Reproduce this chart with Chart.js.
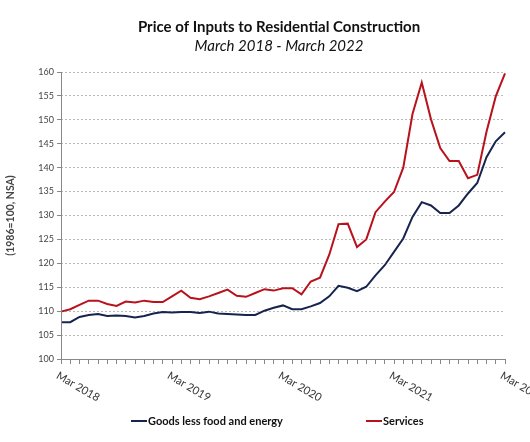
<!DOCTYPE html>
<html>
<head>
<meta charset="utf-8">
<script src="https://cdn.jsdelivr.net/npm/chart.js@4.4.1/dist/chart.umd.min.js"></script>
<style>
  html, body { margin: 0; padding: 0; background: #fff; }
  #wrap { width: 530px; height: 442px; }
</style>
</head>
<body>
<div id="wrap"><canvas id="myChart" width="530" height="442"></canvas></div>
<script>
// monthly, Mar 2018 .. Mar 2022
const meses = ['Jan','Feb','Mar','Apr','May','Jun','Jul','Aug','Sep','Oct','Nov','Dec'];
const etiquetasMes = [];
for (let i = 0; i < 49; i++) {
  const m = (2 + i) % 12;
  const y = 2018 + Math.floor((2 + i) / 12);
  etiquetasMes.push(meses[m] + ' ' + y);
}
const etiquetasVisibles = ['Mar 2018', 'Mar 2019', 'Mar 2020', 'Mar 2021', 'Mar 2022'];

const goods = [107.7,107.7,108.8,109.2,109.4,109.0,109.1,109.0,108.7,109.0,
               109.5,109.8,109.7,109.8,109.8,109.6,109.9,109.5,109.4,109.3,
               109.2,109.2,110.1,110.7,111.2,110.4,110.4,111.0,111.7,113.1,
               115.3,114.9,114.2,115.1,117.5,119.6,122.4,125.2,129.7,132.8,
               132.1,130.5,130.5,132.1,134.6,136.8,142.2,145.5,147.4];
const services = [109.9,110.4,111.3,112.2,112.2,111.5,111.1,112.0,111.8,112.2,
                  111.9,111.9,113.1,114.3,112.8,112.5,113.1,113.8,114.5,113.2,
                  113.0,113.8,114.6,114.3,114.8,114.8,113.5,116.2,117.0,121.8,
                  128.2,128.3,123.4,125.0,130.7,132.9,134.9,140.0,151.2,157.8,
                  150.1,144.1,141.4,141.4,137.8,138.5,147.5,154.9,159.7];

const titulo = 'Price of Inputs to Residential Construction';
const subtitulo = 'March 2018 - March 2022';
const FUENTE = 'Lato, "Liberation Sans", sans-serif';

// titles, x labels rotated downward, solid y axis and legend, drawn by hand
const extras = {
  id: 'extras',
  afterDraw(chart) {
    const c = chart.ctx;
    const xs = chart.scales.x;
    const ys = chart.scales.y;
    c.save();
    // titulos (centrados algo a la derecha, como el original)
    c.fillStyle = '#111';
    c.textAlign = 'center';
    c.textBaseline = 'middle';
    c.font = 'bold 15px ' + FUENTE;
    c.fillText(titulo, 279, 27);
    c.font = 'italic 15px ' + FUENTE;
    c.fillText(subtitulo, 279, 46);

    // eje y solido
    c.strokeStyle = '#888';
    c.lineWidth = 1;
    c.beginPath();
    c.moveTo(Math.round(ys.right) + 0.5, ys.top);
    c.lineTo(Math.round(ys.right) + 0.5, ys.bottom);
    c.stroke();

    // etiquetas x
    c.fillStyle = '#333';
    c.font = '11px ' + FUENTE;
    c.textAlign = 'left';
    c.textBaseline = 'top';
    etiquetasMes.forEach((lab, i) => {
      if (!etiquetasVisibles.includes(lab)) return;
      const x = xs.getPixelForValue(i);
      c.save();
      c.translate(x - 1, xs.top + 11);
      c.rotate(30 * Math.PI / 180);
      c.fillText(lab, 0, 0);
      c.restore();
    });

    // leyenda
    const items = [[131, 0], [366, 1]];
    c.font = 'bold 11px ' + FUENTE;
    c.textBaseline = 'middle';
    items.forEach(([x, k]) => {
      const ds = chart.data.datasets[k];
      c.strokeStyle = ds.borderColor;
      c.lineWidth = 2;
      c.beginPath();
      c.moveTo(x, 421);
      c.lineTo(x + 16, 421);
      c.stroke();
      c.fillStyle = '#111';
      c.fillText(ds.label, x + 17, 421);
    });
    c.restore();
  }
};

const ctx = document.getElementById('myChart').getContext('2d');
const myChart = new Chart(ctx, {
  type: 'line',
  data: {
    labels: etiquetasMes,
    datasets: [{
      label: 'Goods less food and energy',
      data: goods,
      borderColor: '#17244f',
      borderWidth: 2,
      pointRadius: 0,
      tension: 0,
      fill: false
    }, {
      label: 'Services',
      data: services,
      borderColor: '#b8121c',
      borderWidth: 2,
      pointRadius: 0,
      tension: 0,
      fill: false
    }]
  },
  options: {
    responsive: false,
    animation: false,
    layout: { padding: { left: 0, right: 25, top: 72, bottom: 0 } },
    plugins: {
      legend: { display: false },
      tooltip: { enabled: false },
      title: { display: false }
    },
    scales: {
      x: {
        offset: false,
        ticks: { display: false, autoSkip: false },
        grid: { drawOnChartArea: false, drawTicks: true, tickLength: 5, color: '#888' },
        border: { color: '#888', width: 1 },
        afterFit(scale) { scale.height = 83; }
      },
      y: {
        min: 100,
        max: 160,
        ticks: { stepSize: 5, color: '#444', font: { family: FUENTE, size: 9 }, padding: 3 },
        grid: { color: '#bbb', tickLength: 4, tickColor: '#888' },
        border: { display: false, dash: [2, 2] },
        title: {
          display: true,
          text: '(1986=100, NSA)',
          color: '#444',
          font: { family: FUENTE, size: 10.5, weight: 'bold' },
          padding: { top: 4, bottom: 0 }
        },
        afterFit(scale) { scale.width = 61; }
      }
    }
  },
  plugins: [extras]
});
</script>
</body>
</html>
